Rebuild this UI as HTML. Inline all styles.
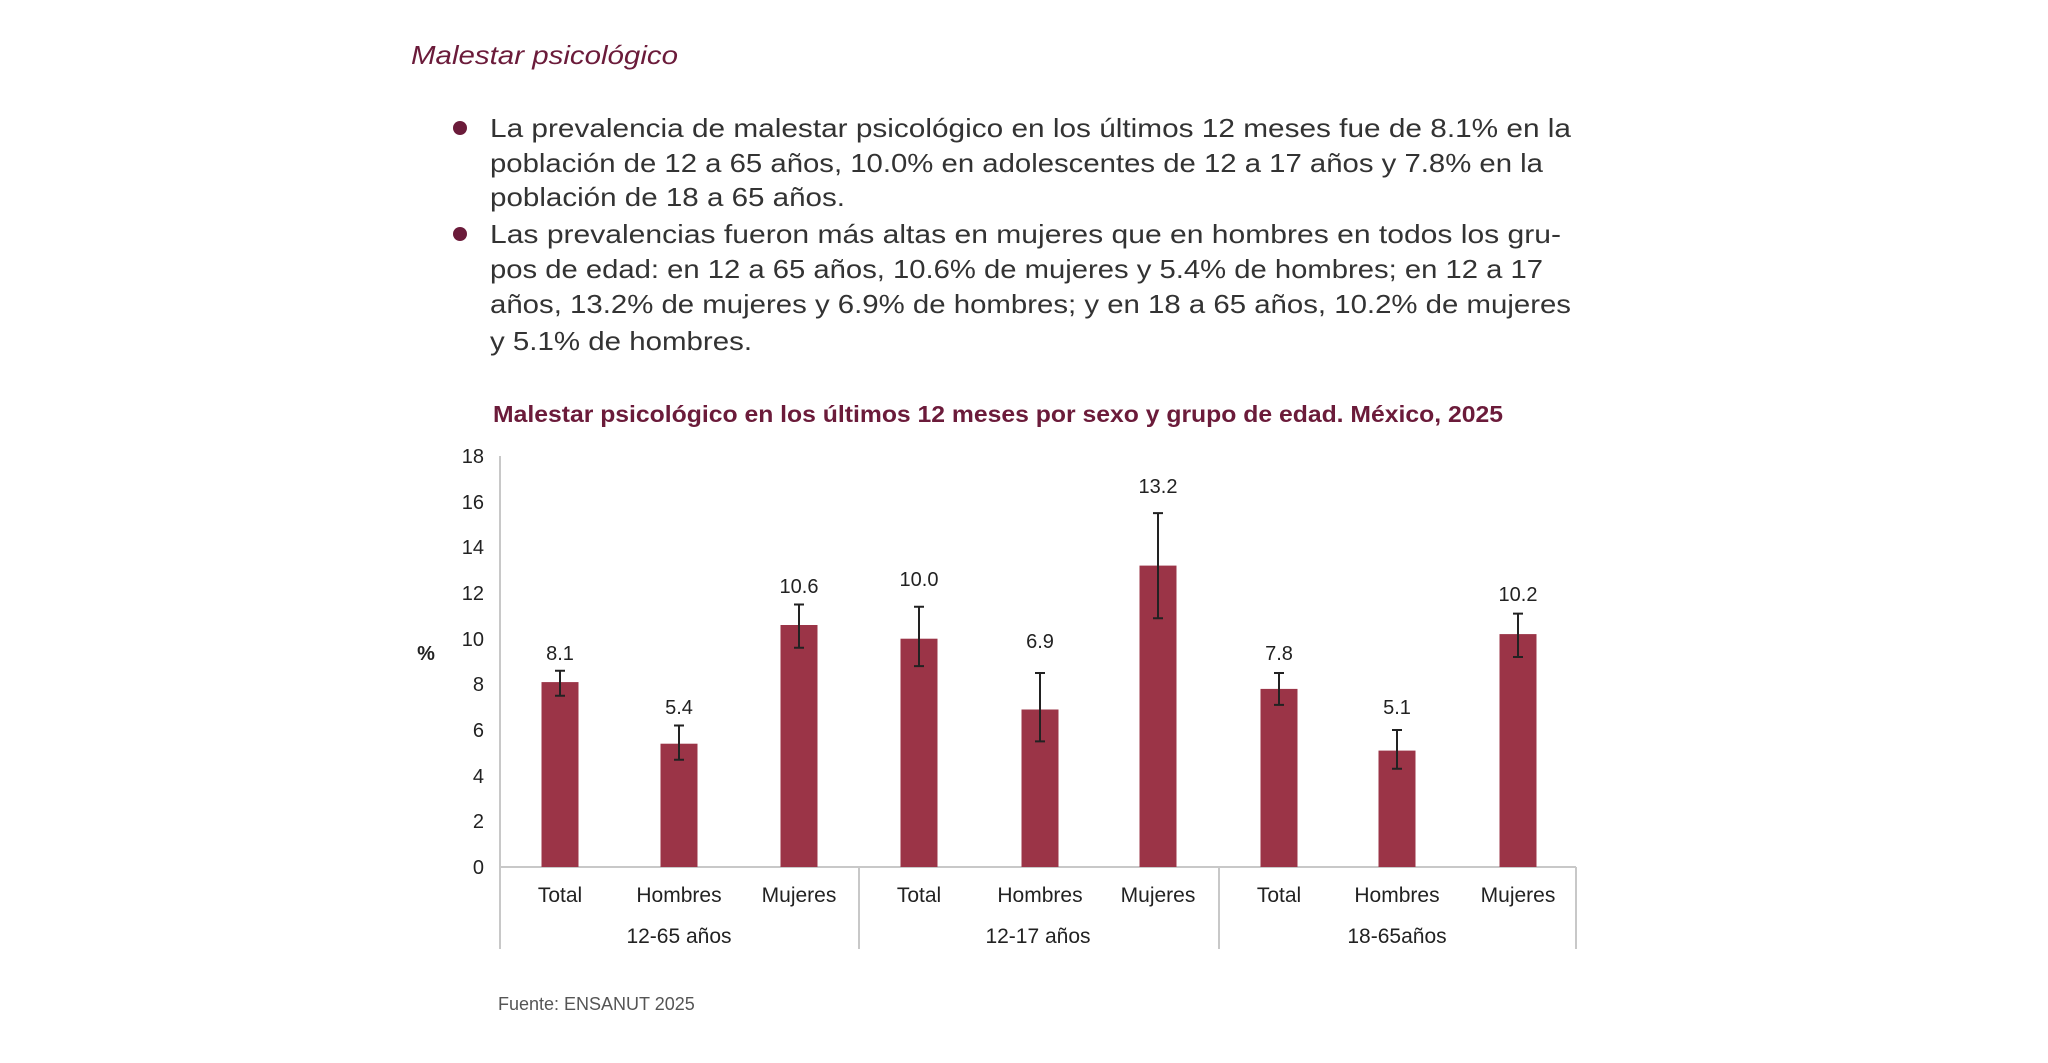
<!DOCTYPE html>
<html><head><meta charset="utf-8"><style>
html,body{margin:0;padding:0;background:#fff;}
svg{display:block;font-family:"Liberation Sans",sans-serif;}
</style></head><body>
<svg width="2048" height="1063" viewBox="0 0 2048 1063" xmlns="http://www.w3.org/2000/svg">
<text x="411" y="64" font-size="26" font-style="italic" fill="#6b1b3a" textLength="267" lengthAdjust="spacingAndGlyphs">Malestar psicológico</text>
<g fill="#333" font-size="26">
<circle cx="460" cy="128" r="7" fill="#6b1b3a"/>
<circle cx="460" cy="234" r="7" fill="#6b1b3a"/>
<text x="490" y="137" textLength="1081" lengthAdjust="spacingAndGlyphs">La prevalencia de malestar psicológico en los últimos 12 meses fue de 8.1% en la</text>
<text x="490" y="172" textLength="1053" lengthAdjust="spacingAndGlyphs">población de 12 a 65 años, 10.0% en adolescentes de 12 a 17 años y 7.8% en la</text>
<text x="490" y="206" textLength="355" lengthAdjust="spacingAndGlyphs">población de 18 a 65 años.</text>
<text x="490" y="243" textLength="1071" lengthAdjust="spacingAndGlyphs">Las prevalencias fueron más altas en mujeres que en hombres en todos los gru-</text>
<text x="490" y="278" textLength="1053" lengthAdjust="spacingAndGlyphs">pos de edad: en 12 a 65 años, 10.6% de mujeres y 5.4% de hombres; en 12 a 17</text>
<text x="490" y="313" textLength="1081" lengthAdjust="spacingAndGlyphs">años, 13.2% de mujeres y 6.9% de hombres; y en 18 a 65 años, 10.2% de mujeres</text>
<text x="490" y="350" textLength="262" lengthAdjust="spacingAndGlyphs">y 5.1% de hombres.</text>
</g>
<text x="998" y="422" text-anchor="middle" font-size="23" font-weight="bold" fill="#6b1b3a" textLength="1010" lengthAdjust="spacingAndGlyphs">Malestar psicológico en los últimos 12 meses por sexo y grupo de edad. México, 2025</text>
<g font-size="20" fill="#222" text-anchor="end">
<text x="484" y="874">0</text><text x="484" y="828">2</text><text x="484" y="783">4</text><text x="484" y="737">6</text><text x="484" y="691">8</text><text x="484" y="646">10</text><text x="484" y="600">12</text><text x="484" y="554">14</text><text x="484" y="509">16</text><text x="484" y="463">18</text>
</g>
<text x="426" y="660" font-size="20" font-weight="bold" fill="#222" text-anchor="middle">%</text>
<g stroke="#c8c8c8" stroke-width="2" fill="none">
<line x1="500" y1="456" x2="500" y2="949"/>
<line x1="500" y1="867" x2="1576" y2="867"/>
<line x1="859" y1="867" x2="859" y2="949"/>
<line x1="1219" y1="867" x2="1219" y2="949"/>
<line x1="1576" y1="867" x2="1576" y2="949"/>
</g>
<g fill="#9b3447">
<rect x="541.5" y="682.1" width="37" height="184.9"/>
<rect x="660.5" y="743.7" width="37" height="123.3"/>
<rect x="780.5" y="625.0" width="37" height="242.0"/>
<rect x="900.5" y="638.7" width="37" height="228.3"/>
<rect x="1021.5" y="709.5" width="37" height="157.5"/>
<rect x="1139.5" y="565.6" width="37" height="301.4"/>
<rect x="1260.5" y="688.9" width="37" height="178.1"/>
<rect x="1378.5" y="750.6" width="37" height="116.4"/>
<rect x="1499.5" y="634.1" width="37" height="232.9"/>
</g>
<g stroke="#222" stroke-width="2" fill="none">
<path d="M560 695.8V670.7M555 695.8h10M555 670.7h10"/>
<path d="M679 759.7V725.5M674 759.7h10M674 725.5h10"/>
<path d="M799 647.8V604.5M794 647.8h10M794 604.5h10"/>
<path d="M919 666.1V606.7M914 666.1h10M914 606.7h10"/>
<path d="M1040 741.4V673.0M1035 741.4h10M1035 673.0h10"/>
<path d="M1158 618.2V513.1M1153 618.2h10M1153 513.1h10"/>
<path d="M1279 704.9V673.0M1274 704.9h10M1274 673.0h10"/>
<path d="M1397 768.8V730.0M1392 768.8h10M1392 730.0h10"/>
<path d="M1518 657.0V613.6M1513 657.0h10M1513 613.6h10"/>
</g>
<g font-size="20" fill="#222" text-anchor="middle">
<text x="560" y="660">8.1</text>
<text x="679" y="714">5.4</text>
<text x="799" y="593">10.6</text>
<text x="919" y="586">10.0</text>
<text x="1040" y="648">6.9</text>
<text x="1158" y="493">13.2</text>
<text x="1279" y="660">7.8</text>
<text x="1397" y="714">5.1</text>
<text x="1518" y="601">10.2</text>
</g>
<g font-size="21" fill="#222" text-anchor="middle">
<text x="560" y="902">Total</text><text x="679" y="902">Hombres</text><text x="799" y="902">Mujeres</text>
<text x="919" y="902">Total</text><text x="1040" y="902">Hombres</text><text x="1158" y="902">Mujeres</text>
<text x="1279" y="902">Total</text><text x="1397" y="902">Hombres</text><text x="1518" y="902">Mujeres</text>
<text x="679" y="943">12-65 años</text><text x="1038" y="943">12-17 años</text><text x="1397" y="943">18-65años</text>
</g>
<text x="498" y="1010" font-size="18" fill="#555">Fuente: ENSANUT 2025</text>
</svg>
</body></html>
